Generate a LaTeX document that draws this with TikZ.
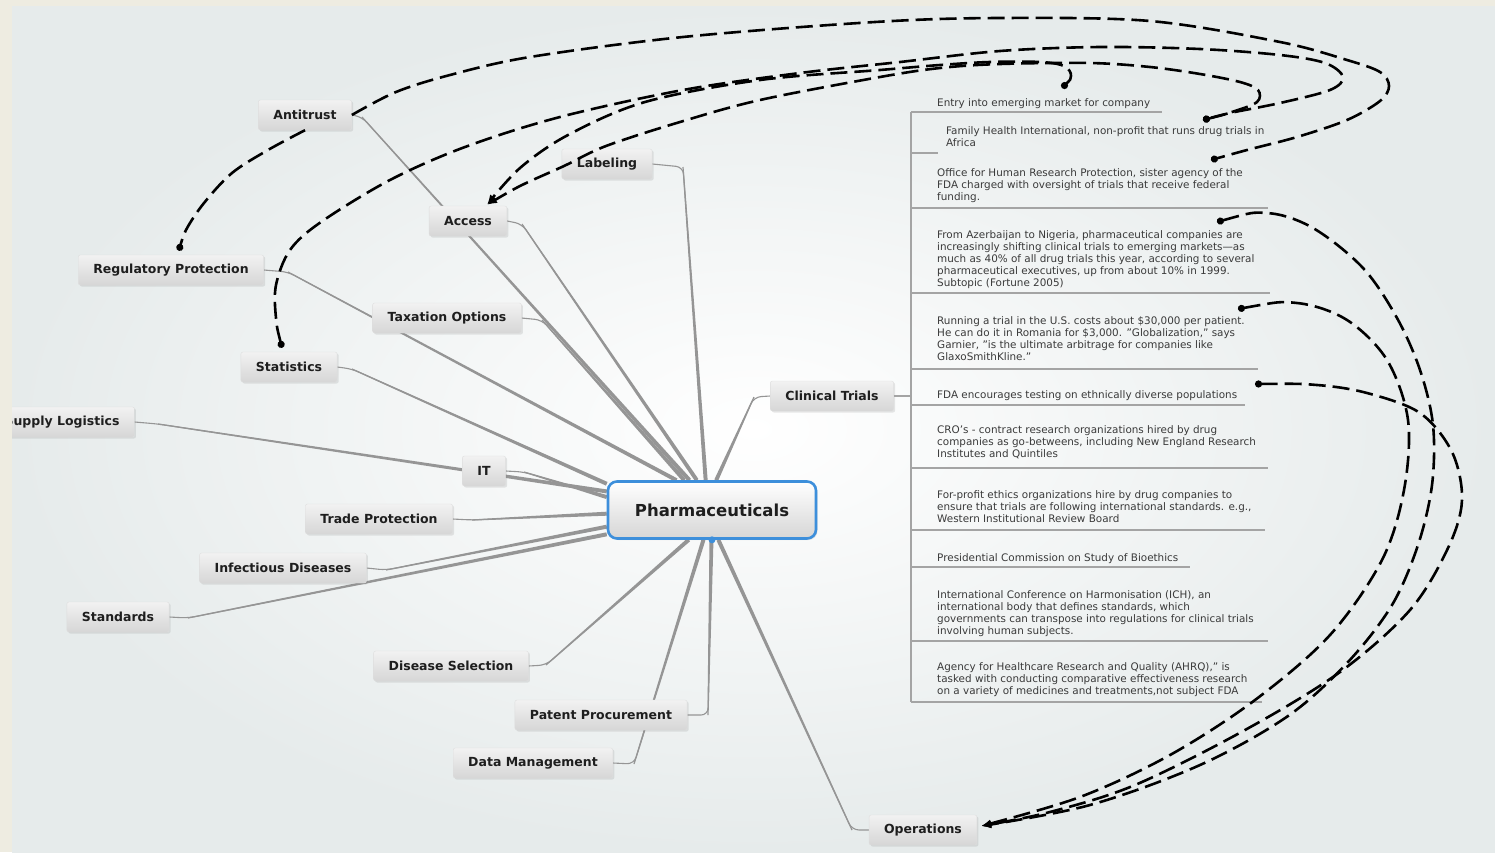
\documentclass[tikz,border=0pt]{standalone}
\usepackage{fontspec}
\setmainfont{DejaVu Sans}
\setsansfont{DejaVu Sans}
\usetikzlibrary{arrows.meta}
\usetikzlibrary{shadows}
\usetikzlibrary{calc}
\usetikzlibrary{backgrounds}

\definecolor{frameBeige}{HTML}{EEECE1}
\definecolor{canvasGrey}{HTML}{E6EBEB}
\definecolor{branchGrey}{HTML}{959595}
\definecolor{ruleGrey}{HTML}{A4A4A4}
\definecolor{noteText}{HTML}{3A3A3A}
\definecolor{topicText}{HTML}{1E1E1E}
\definecolor{topicTop}{HTML}{F2F2F2}
\definecolor{topicBottom}{HTML}{D6D6D6}
\definecolor{hubBlue}{HTML}{3D8FDB}

% tapered branch: hub point, elbow, topic anchor
\newcommand{\Branch}[3]{%
  \draw[stubStyle] (#1) -- (#2) -- (#3);
  \fill[branchGrey] ($(#1)!2pt!90:(#2)$) -- ($(#2)!0.6pt!-90:(#1)$)
    -- ($(#2)!0.6pt!90:(#1)$) -- ($(#1)!2pt!-90:(#2)$) -- cycle;}

\begin{document}
\begin{tikzpicture}[x=1pt, y=-1pt, font=\sffamily]
\tikzstyle{topicStyle}=[rounded corners=2pt, top color=topicTop, bottom color=topicBottom, draw=topicBottom!80!white, line width=0.4pt, minimum height=30pt, inner xsep=15pt, text=topicText, font=\sffamily\fontsize{12.5}{15}\selectfont\bfseries, drop shadow={opacity=0.18, shadow xshift=1.5pt, shadow yshift=-1.5pt}]
\tikzstyle{hubStyle}=[rounded corners=9pt, top color=white, bottom color=topicBottom, draw=hubBlue, line width=2.6pt, minimum width=208pt, minimum height=57pt, text=topicText, font=\sffamily\fontsize{16.5}{20}\selectfont\bfseries, drop shadow={opacity=0.18, shadow xshift=1.5pt, shadow yshift=-1.5pt}]
\tikzstyle{noteStyle}=[anchor=north west, align=left, inner sep=0pt, text=noteText, font=\sffamily\fontsize{10.4}{12.2}\selectfont]
\tikzstyle{stubStyle}=[draw=branchGrey, line width=1.1pt, rounded corners=7pt]
\tikzstyle{ruleStyle}=[draw=ruleGrey, line width=1.2pt]
\tikzstyle{relStyle}=[draw=black, line width=2.6pt, dash pattern=on 17pt off 7pt]
\useasboundingbox (0,0) rectangle (1495,852);

% central topic and main topics
\node[hubStyle] (pharma) at (712,510) {Pharmaceuticals};
\node[topicStyle] (antitrust) at (305,115) {Antitrust};
\node[topicStyle] (labeling) at (607,164) {Labeling};
\node[topicStyle] (access) at (468,221) {Access};
\node[topicStyle] (regprot) at (171,270) {Regulatory Protection};
\node[topicStyle] (taxation) at (447,318) {Taxation Options};
\node[topicStyle] (statistics) at (289,367) {Statistics};
\node[topicStyle] (supply) at (62,422) {Supply Logistics};
\node[topicStyle] (it) at (484,471) {IT};
\node[topicStyle] (trade) at (379,519) {Trade Protection};
\node[topicStyle] (infectious) at (283,568) {Infectious Diseases};
\node[topicStyle] (standards) at (118,617) {Standards};
\node[topicStyle] (diseasesel) at (451,666) {Disease Selection};
\node[topicStyle] (patent) at (601,715) {Patent Procurement};
\node[topicStyle] (datamgmt) at (533,763) {Data Management};
\node[topicStyle] (clinical) at (832,396) {Clinical Trials};
\node[topicStyle] (operations) at (923,830) {Operations};
\fill[hubBlue] (pharma.south) circle (3.5);

% clinical trials notes
\node[noteStyle] (n1) at (937,98) {Entry into emerging market for company};
\node[noteStyle] (n2) at (946,126) {Family Health International, non-profit that runs drug trials in\\Africa};
\node[noteStyle] (n3) at (937,168) {Office for Human Research Protection, sister agency of the\\FDA charged with oversight of trials that receive federal\\funding.};
\node[noteStyle] (n4) at (937,230) {From Azerbaijan to Nigeria, pharmaceutical companies are\\increasingly shifting clinical trials to emerging markets—as\\much as 40\% of all drug trials this year, according to several\\pharmaceutical executives, up from about 10\% in 1999.\\Subtopic (Fortune 2005)};
\node[noteStyle] (n5) at (937,316) {Running a trial in the U.S. costs about \$30,000 per patient.\\He can do it in Romania for \$3,000. "Globalization," says\\Garnier, "is the ultimate arbitrage for companies like\\GlaxoSmithKline."};
\node[noteStyle] (n6) at (937,390) {FDA encourages testing on ethnically diverse populations};
\node[noteStyle] (n7) at (937,425) {CRO's - contract research organizations hired by drug\\companies as go-betweens, including New England Research\\Institutes and Quintiles};
\node[noteStyle] (n8) at (937,490) {For-profit ethics organizations hire by drug companies to\\ensure that trials are following international standards. e.g.,\\Western Institutional Review Board};
\node[noteStyle] (n9) at (937,553) {Presidential Commission on Study of Bioethics};
\node[noteStyle] (n10) at (937,590) {International Conference on Harmonisation (ICH), an\\international body that defines standards, which\\governments can transpose into regulations for clinical trials\\involving human subjects.};
\node[noteStyle] (n11) at (937,662) {Agency for Healthcare Research and Quality (AHRQ)," is\\tasked with conducting comparative effectiveness research\\on a variety of medicines and treatments,not subject FDA};

% note trunk and underlines
\coordinate (trunkTop) at (911,112);
\coordinate (trunkBot) at (911,702);
\draw[ruleStyle] (trunkTop) -- (trunkBot);
\draw[ruleStyle] (clinical.east) -- (clinical.east -| trunkTop);
\draw[ruleStyle] (911,112) -- (1162,112);
\draw[ruleStyle] (911,153) -- (938,153);
\draw[ruleStyle] (911,208) -- (1268,208);
\draw[ruleStyle] (911,293) -- (1270,293);
\draw[ruleStyle] (911,369) -- (1258,369);
\draw[ruleStyle] (911,405) -- (1245,405);
\draw[ruleStyle] (911,468) -- (1268,468);
\draw[ruleStyle] (911,530) -- (1265,530);
\draw[ruleStyle] (911,567) -- (1190,567);
\draw[ruleStyle] (911,641) -- (1268,641);
\draw[ruleStyle] (911,702) -- (1262,702);

\begin{pgfonlayer}{background}
\fill[frameBeige] (0,0) rectangle (1495,852);
\shade[inner color=white, outer color=canvasGrey] (12,6) rectangle (1495,852);
\Branch{pharma.127}{362,117}{antitrust.east}
\Branch{pharma.117}{522,224}{access.east}
\Branch{pharma.102}{683,167}{labeling.east}
\Branch{pharma.140}{288,272}{regprot.east}
\Branch{pharma.133}{542,320}{taxation.east}
\Branch{pharma.166}{352,369}{statistics.east}
\Branch{pharma.170}{158,424}{supply.east}
\Branch{pharma.173}{524,472}{it.east}
\Branch{pharma.182}{472,520}{trade.east}
\Branch{pharma.189}{386,570}{infectious.east}
\Branch{pharma.193}{188,618}{standards.east}
\Branch{pharma.232}{546,665}{diseasesel.east}
\Branch{pharma.269}{708,715}{patent.east}
\Branch{pharma.254}{634,764}{datamgmt.east}
\Branch{pharma.282}{852,830}{operations.west}
\Branch{pharma.82}{754,397}{clinical.west}
\end{pgfonlayer}

% relationship ends
\coordinate (dotReg) at ($(regprot.north)+(8,-4)$);
\coordinate (dotStat) at ($(statistics.north)+(-7,-4)$);
\coordinate (accessIn) at ($(access.north)+(19,-1)$);
\coordinate (opsIn) at ($(operations.east)+(4,-4)$);
\coordinate (dotEntry) at (1062,88);
\coordinate (dotFamily) at (1203,120);
\coordinate (dotOffice) at (1211,160);
\coordinate (dotAzer) at (1217,222);
\coordinate (dotRun) at (1238,309);
\coordinate (dotFDA) at (1255,384);

% relationships
\draw[relStyle, -{Circle[length=7pt]}] plot[smooth, tension=0.55] coordinates {(antitrust.east) (396,92) (450,75) (530,57) (683,37) (875,22) (1000,18) (1150,21) (1280,42) (1347,60) (1380,72) (1389,86) (1380,101) (1347,120) (1297,137) (1247,150) (dotOffice)};
\draw[relStyle, -{Circle[length=7pt]}] plot[smooth, tension=0.55] coordinates {(antitrust.south) (268,150) (232,173) (204,203) (186,230) (dotReg)};
\draw[relStyle, {Circle[length=7pt]}-{Circle[length=7pt]}] plot[smooth, tension=0.55] coordinates {(dotStat) (276,318) (276,285) (290,250) (321,222) (390,180) (465,147) (560,117) (683,90) (800,73) (900,62) (1000,51) (1100,47) (1200,49) (1280,55) (1325,63) (1343,77) (1330,90) (1280,103) (1230,113) (dotFamily)};
\draw[relStyle, {Circle[length=7pt]}-{Latex[length=10pt,width=8pt]}] plot[smooth, tension=0.55] coordinates {(dotEntry) (1071,76) (1064,66) (1040,62) (990,62) (940,65) (880,70) (760,80) (645,102) (568,135) (520,168) (accessIn)};
\draw[relStyle, {Circle[length=7pt]}-{Latex[length=10pt,width=8pt]}] plot[smooth, tension=0.55] coordinates {(dotFamily) (1232,112) (1257,102) (1258,90) (1240,82) (1200,74) (1150,67) (1090,63) (1000,64) (940,68) (880,77) (760,100) (680,122) (606,146) (564,166) (520,186) (accessIn)};
\draw[relStyle, {Circle[length=7pt]}-{Latex[length=10pt,width=8pt]}] plot[smooth, tension=0.55] coordinates {(dotAzer) (1267,213) (1313,228) (1363,268) (1397,318) (1420,370) (1433,425) (1432,485) (1418,545) (1392,605) (1348,662) (1288,716) (1200,765) (1090,805) (opsIn)};
\draw[relStyle, {Circle[length=7pt]}-{Latex[length=10pt,width=8pt]}] plot[smooth, tension=0.55] coordinates {(dotRun) (1297,303) (1347,320) (1387,360) (1408,420) (1404,490) (1382,560) (1330,635) (1255,700) (1170,755) (1080,797) (opsIn)};
\draw[relStyle, {Circle[length=7pt]}-{Latex[length=10pt,width=8pt]}] plot[smooth, tension=0.55] coordinates {(dotFDA) (1317,385) (1367,393) (1420,413) (1452,452) (1462,500) (1448,548) (1410,610) (1340,672) (1245,730) (1135,785) (1050,812) (opsIn)};

% frame strips
\fill[frameBeige] (0,0) rectangle (12,852);
\fill[frameBeige] (0,0) rectangle (1495,6);
\end{tikzpicture}
\end{document}
